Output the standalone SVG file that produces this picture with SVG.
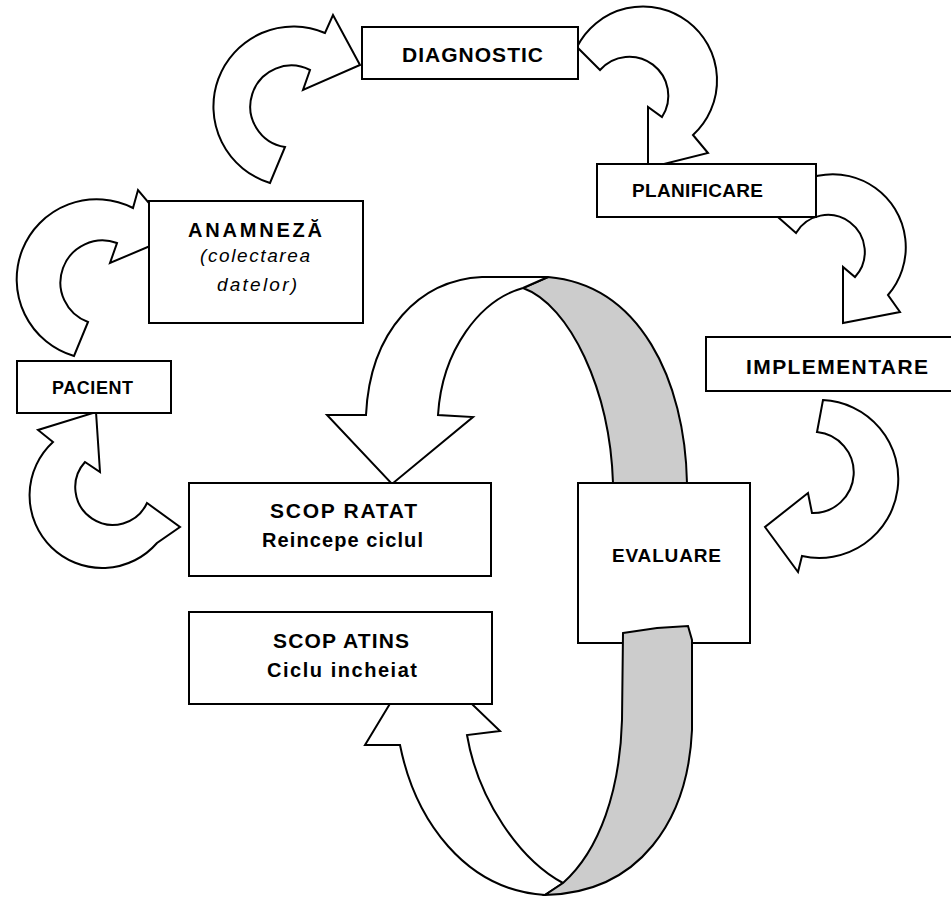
<svg xmlns="http://www.w3.org/2000/svg" width="951" height="898" viewBox="0 0 951 898">
<style>
.box{fill:#ffffff;stroke:#000000;stroke-width:2}
.arr{fill:#ffffff;stroke:#000000;stroke-width:2;stroke-linejoin:miter}
.band{fill:#cccccc;stroke:#000000;stroke-width:2}
.t{font-family:"Liberation Sans",Arial,sans-serif;font-weight:bold;fill:#000000;text-anchor:middle}
.ti{font-family:"Liberation Sans",Arial,sans-serif;font-style:italic;fill:#000000;text-anchor:middle}
</style>
<rect x="0" y="0" width="951" height="898" fill="#ffffff"/>
<g id="connectors">
  <path class="arr" d="M74,356 A80,80 0 1 1 133,208 L138,190 L176,235 L110,263 L117,243 A42,42 0 0 0 88,322 Z"/>
  <path class="arr" d="M270,183 A80,80 0 1 1 325,33 L333,15 L360,65 L303,90 L310,70 A41,41 0 1 0 285,147 Z"/>
  <path class="arr" d="M577,47 A74,74 0 1 1 693,135 L708,153 L648,168 L648,107 L662,117 A39,39 0 0 0 600,70 Z"/>
  <path class="arr" d="M770,210 A73,73 0 1 1 888,295 L900,312 L843,323 L843,267 L855,277 A37,37 0 1 0 796,233 Z"/>
  <path class="arr" d="M823,400 A79,79 0 1 1 802,556 L798,572 L765,527 L808,493 L812,513 A40.6,40.6 0 0 0 817,432 Z"/>
  <path class="arr" d="M157,543 A72.6,72.6 0 1 1 53,442 L38,430 L96,412 L100,472 L85,462 A37.6,37.6 0 1 0 147,503 L180,527 Z"/>
  <path class="band" d="M548,277 C640,285 685,380 687,483 L613,483 C610,390 570,305 523,288 Z"/>
  <path class="arr" d="M548,277 L482,277 C420,280 370,330 366,415 L327,415 L392,484 L473,417 L438,415 C442,350 480,300 523,288 Z"/>
  <path class="arr" d="M400,745 L365,745 L420,654 L500,731 L467,735 C478,800 520,860 563,883 L545,895 C465,890 415,820 400,745 Z"/>
</g>
<g id="diagnostic">
  <rect class="box" x="362" y="27" width="216" height="52"/>
  <text class="t" x="472.5" y="62" font-size="21" textLength="141" lengthAdjust="spacing">DIAGNOSTIC</text>
</g>
<g id="planificare">
  <rect class="box" x="597" y="164" width="219" height="53"/>
  <text class="t" x="697.5" y="197" font-size="19" textLength="131" lengthAdjust="spacing">PLANIFICARE</text>
</g>
<g id="anamneza">
  <rect class="box" x="149" y="201" width="214" height="122"/>
  <text class="t" x="255" y="237" font-size="20" textLength="134" lengthAdjust="spacing">ANAMNEZĂ</text>
  <text class="ti" x="255" y="262" font-size="19" textLength="110" lengthAdjust="spacing">(colectarea</text>
  <text class="ti" x="257" y="291" font-size="19" textLength="80" lengthAdjust="spacing">datelor)</text>
</g>
<g id="pacient">
  <rect class="box" x="17" y="361" width="154" height="52"/>
  <text class="t" x="92.5" y="394" font-size="18" textLength="81" lengthAdjust="spacing">PACIENT</text>
</g>
<g id="implementare">
  <rect class="box" x="706" y="337" width="250" height="54"/>
  <text class="t" x="837" y="374" font-size="21" textLength="182" lengthAdjust="spacing">IMPLEMENTARE</text>
</g>
<g id="scop-ratat">
  <rect class="box" x="189" y="483" width="302" height="93"/>
  <text class="t" x="343.5" y="518" font-size="21" textLength="147" lengthAdjust="spacing">SCOP RATAT</text>
  <text class="t" x="342.5" y="547" font-size="20" textLength="161" lengthAdjust="spacing">Reincepe ciclul</text>
</g>
<g id="scop-atins">
  <rect class="box" x="189" y="612" width="303" height="92"/>
  <text class="t" x="341" y="648" font-size="21" textLength="136" lengthAdjust="spacing">SCOP ATINS</text>
  <text class="t" x="342" y="677" font-size="20" textLength="150" lengthAdjust="spacing">Ciclu incheiat</text>
</g>
<g id="evaluare">
  <rect class="box" x="578" y="483" width="172" height="160"/>
  <text class="t" x="666.5" y="562" font-size="19" textLength="109" lengthAdjust="spacing">EVALUARE</text>
</g>
<g id="ring-lower">
  <path class="band" d="M623,633 L657,628 L688,626 L692,640 L692,730 C688,820 640,893 545,895 L563,883 C600,850 620,790 622,720 Z"/>
</g>
</svg>
